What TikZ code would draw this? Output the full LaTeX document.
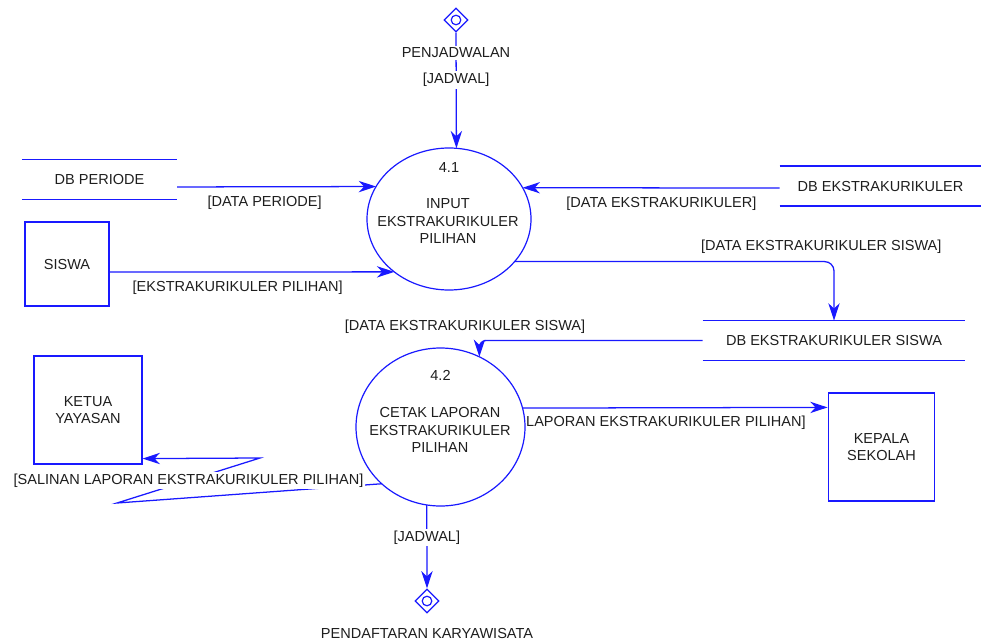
\documentclass[tikz,border=0pt]{standalone}
\usepackage{fontspec}
\setmainfont{Liberation Sans}
\usetikzlibrary{arrows.meta,shapes.geometric,positioning}

\definecolor{dfdblue}{RGB}{25,25,255}
\definecolor{dfdtext}{RGB}{30,30,30}
\newcommand{\dfdfont}{\fontsize{10.9pt}{13pt}\selectfont}

\tikzset{
    proc/.style={ellipse, draw=dfdblue, line width=0.9pt, inner sep=0pt, outer sep=0pt},
    proctext/.style={align=center, text=dfdtext},
    entity/.style={rectangle, draw=dfdblue, line width=0.9pt, align=center, inner sep=0pt},
    store/.style={inner sep=0pt, minimum height=29.5pt},
    storeline/.style={draw=dfdblue, line width=0.9pt},
    term/.style={diamond, draw=dfdblue, line width=0.9pt, minimum size=18pt, inner sep=0pt,
        path picture={\draw[dfdblue, line width=0.9pt] (path picture bounding box.center) circle (3.6pt);}},
    flow/.style={draw=dfdblue, line width=0.95pt, -{Stealth[length=13pt,width=8.5pt,inset=4pt]}},
    lbl/.style={text=dfdtext, inner sep=1.5pt},
    gap/.style={lbl, fill=white},
}

\begin{document}
\begin{tikzpicture}[x=0.75pt, y=-0.75pt, font=\dfdfont, text=dfdtext]
    \useasboundingbox (0,0) rectangle (981,642);

    \node[term] (jad) at (456,20) {};
    \node[term] (wisata) at (427,601) {};

    \node[proc, minimum width=123pt, minimum height=106.5pt] (p1) at (449,219) {};
    \node[proctext] (t1) at (448,221) {INPUT\\EKSTRAKURIKULER\\PILIHAN};
    \node[below=7pt of p1.north] (n1) {4.1};
    \node[proc, minimum width=126.75pt, minimum height=118.5pt] (p2) at (440.5,427) {};
    \node[proctext] (t2) at (440,430) {CETAK LAPORAN\\EKSTRAKURIKULER\\PILIHAN};
    \node[below=13pt of p2.north] (n2) {4.2};

    \node[store, minimum width=116pt] (dbp) at (99.5,179.5) {DB PERIODE};
    \node[store, minimum width=151pt] (dbe) at (880.5,186) {DB EKSTRAKURIKULER};
    \node[store, minimum width=196.5pt] (dbs) at (834,340.5) {DB EKSTRAKURIKULER SISWA};
    \foreach \s in {dbp,dbe,dbs}
        \draw[storeline] (\s.north west) -- (\s.north east) (\s.south west) -- (\s.south east);

    \node[entity, minimum width=63pt, minimum height=63pt] (siswa) at (67,264) {SISWA};
    \node[entity, minimum width=81pt, minimum height=81pt] (ketua) at (88,410) {KETUA\\YAYASAN};
    \node[entity, minimum width=80pt, minimum height=81pt] (kepsek) at (881.5,447) {KEPALA\\SEKOLAH};

    \coordinate (z1) at (117,503);
    \coordinate (z2) at (260,458);

    \draw[flow] (jad.south) -- node[gap, pos=.41] {[JADWAL]} (p1.84);
    \draw[flow] ([yshift=-5.6pt]dbp.east) -- node[lbl, below=5pt, pos=.44] {[DATA PERIODE]} (p1.156);
    \draw[flow] ([yshift=-6pt]siswa.east) -- node[lbl, below=4.5pt, pos=.45] {[EKSTRAKURIKULER PILIHAN]} (p1.224);
    \draw[flow] ([yshift=-1.5pt]dbe.west) -- node[lbl, below=4.5pt, pos=.46] {[DATA EKSTRAKURIKULER]} (p1.23);
    \draw[flow, rounded corners=7pt] (p1.327) -| node[lbl, above=4pt, pos=.48] {[DATA EKSTRAKURIKULER SISWA]} (dbs.north);
    \draw[flow, rounded corners=5pt] (dbs.west) -| node[lbl, above=3.5pt, pos=.5, xshift=-10.8pt] {[DATA EKSTRAKURIKULER SISWA]} (p2.61);
    \draw[flow] (p2.224) -- (z1) -- node[gap, pos=.5] {[SALINAN LAPORAN EKSTRAKURIKULER PILIHAN]} (z2) -- ([yshift=4.5pt]ketua.south east);
    \draw[flow] (p2.13) -- node[lbl, below=4pt, pos=.47] {LAPORAN EKSTRAKURIKULER PILIHAN]} ([yshift=-11.25pt]kepsek.north west);
    \draw[flow] (p2.260) -- node[gap, pos=.39] {[JADWAL]} (wisata.north);

    \node[gap, below=9.5pt of jad] (jadname) {PENJADWALAN};
    \node[gap, below=9pt of wisata] (wisataname) {PENDAFTARAN KARYAWISATA};
\end{tikzpicture}
\end{document}
